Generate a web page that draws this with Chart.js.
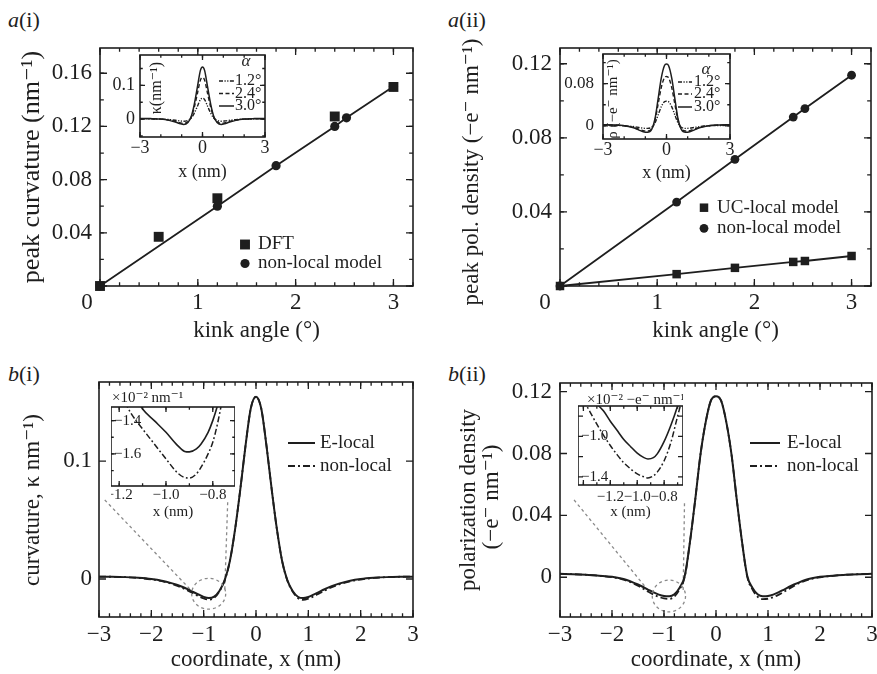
<!DOCTYPE html>
<html>
<head>
<meta charset="utf-8">
<script src="https://cdn.jsdelivr.net/npm/chart.js@4.4.0/dist/chart.umd.min.js"></script>
<style>
  body { margin: 0; background: #fff; width: 877px; height: 674px; position: relative; overflow: hidden;
         font-family: 'Liberation Serif', 'DejaVu Serif', serif; color: #1e1e1e; }
  canvas { position: absolute; }
  .tag { position: absolute; font-size: 22px; line-height: 24px; }
</style>
</head>
<body>
<div class="tag" style="left:8px;top:8px"><i>a</i>(i)</div>
<div class="tag" style="left:448px;top:8px"><i>a</i>(ii)</div>
<div class="tag" style="left:8px;top:362px"><i>b</i>(i)</div>
<div class="tag" style="left:448px;top:362px"><i>b</i>(ii)</div>

<canvas id="ai" width="440" height="345" style="left:0px;top:0px"></canvas>
<canvas id="aii" width="440" height="345" style="left:437px;top:0px"></canvas>
<canvas id="bi" width="440" height="304" style="left:0px;top:370px"></canvas>
<canvas id="bii" width="440" height="304" style="left:437px;top:370px"></canvas>
<canvas id="aiIn" width="175" height="135" style="left:95px;top:50px"></canvas>
<canvas id="aiiIn" width="180" height="136" style="left:555px;top:49px"></canvas>
<canvas id="biIn" width="124" height="133" style="left:111px;top:388px"></canvas>
<canvas id="biiIn" width="105" height="133" style="left:578px;top:388px"></canvas>

<script>
const SERIF = "'Liberation Serif', 'DejaVu Serif', serif";
const INK = '#1e1e1e';

// a(i): peak curvature vs kink angle
const kinkDFT = [0, 0.6, 1.2, 2.4, 3.0];
const curvDFT = [0, 0.037, 0.066, 0.1275, 0.1497];
const kinkNL = [0, 1.2, 1.8, 2.4, 2.52, 3.0];
const curvNL = [0, 0.060, 0.0905, 0.120, 0.1265, 0.150];

// a(ii): peak polarisation density vs kink angle
const kinkPol = [0, 1.2, 1.8, 2.4, 2.52, 3.0];
const polUC = [0, 0.0064, 0.0098, 0.0130, 0.0135, 0.0162];
const polNL = [0, 0.0453, 0.0684, 0.0912, 0.0958, 0.1138];

// inset profiles for the three kink angles
const ax = [-3, -2.5, -2, -1.6, -1.3, -1.1, -0.9, -0.7, -0.55, -0.4, -0.25, -0.1, 0, 0.1, 0.25, 0.4, 0.55, 0.7, 0.9, 1.1, 1.3, 1.6, 2, 2.5, 3];
const k12 = [0.0008, 0.0006, 0, -0.0015, -0.0035, -0.0052, -0.0064, -0.0040, 0.0024, 0.0168, 0.0372, 0.0578, 0.0618, 0.0578, 0.0372, 0.0168, 0.0024, -0.0040, -0.0064, -0.0052, -0.0035, -0.0015, 0, 0.0006, 0.0008];
const k24 = [0.0016, 0.0012, 0, -0.0030, -0.0070, -0.0104, -0.0128, -0.0080, 0.0048, 0.0336, 0.0744, 0.1156, 0.1236, 0.1156, 0.0744, 0.0336, 0.0048, -0.0080, -0.0128, -0.0104, -0.0070, -0.0030, 0, 0.0012, 0.0016];
const k30 = [0.0020, 0.0015, 0, -0.0037, -0.0088, -0.0130, -0.0160, -0.0100, 0.0060, 0.0420, 0.0930, 0.1445, 0.1545, 0.1445, 0.0930, 0.0420, 0.0060, -0.0100, -0.0160, -0.0130, -0.0088, -0.0037, 0, 0.0015, 0.0020];
const r12 = [0.0009, 0.0006, 0.0001, -0.0013, -0.0032, -0.0045, -0.0049, -0.0027, 0.0048, 0.0200, 0.0360, 0.0456, 0.0468, 0.0456, 0.0360, 0.0200, 0.0048, -0.0027, -0.0049, -0.0045, -0.0032, -0.0013, 0.0001, 0.0006, 0.0009];
const r24 = [0.0018, 0.0013, 0.0002, -0.0026, -0.0065, -0.0090, -0.0098, -0.0054, 0.0096, 0.0400, 0.0720, 0.0912, 0.0936, 0.0912, 0.0720, 0.0400, 0.0096, -0.0054, -0.0098, -0.0090, -0.0065, -0.0026, 0.0002, 0.0013, 0.0018];
const r30 = [0.0022, 0.0016, 0.0003, -0.0033, -0.0081, -0.0112, -0.0123, -0.0068, 0.0120, 0.0500, 0.0900, 0.1140, 0.1170, 0.1140, 0.0900, 0.0500, 0.0120, -0.0068, -0.0123, -0.0112, -0.0081, -0.0033, 0.0003, 0.0016, 0.0022];

// b: profiles along x for 3.0 deg kink
const bx = [-3, -2.75, -2.5, -2.25, -2, -1.8, -1.6, -1.5, -1.4, -1.3, -1.2, -1.1, -1, -0.9, -0.8, -0.7, -0.6, -0.5, -0.4, -0.3, -0.2, -0.1, 0,
            0.1, 0.2, 0.3, 0.4, 0.5, 0.6, 0.7, 0.8, 0.9, 1, 1.1, 1.2, 1.3, 1.4, 1.5, 1.6, 1.8, 2, 2.25, 2.5, 2.75, 3];
const kapE = [0.0020, 0.0019, 0.0016, 0.0010, 0.0000, -0.0014, -0.0037,
  -0.0051, -0.0068, -0.0088, -0.0110, -0.0131, -0.0151, -0.0161, -0.0149, -0.0102, -0.0012, 0.0150, 0.0420, 0.0760, 0.1130, 0.1445,
  0.1545,
  0.1445, 0.1130, 0.0760, 0.0420, 0.0150, -0.0012, -0.0102, -0.0150, -0.0162, -0.0152, -0.0132, -0.0111, -0.0089, -0.0069, -0.0052,
  -0.0037, -0.0014, 0.0000, 0.0010, 0.0016, 0.0019, 0.0020];
const kapN = [0.0020, 0.0019, 0.0016, 0.0009, -0.0003, -0.0018, -0.0042,
  -0.0058, -0.0077, -0.0099, -0.0122, -0.0145, -0.0165, -0.0175, -0.0160, -0.0106, -0.0014, 0.0150, 0.0420, 0.0760, 0.1130, 0.1445,
  0.1545,
  0.1445, 0.1130, 0.0760, 0.0420, 0.0150, -0.0014, -0.0106, -0.0161, -0.0177, -0.0167, -0.0147, -0.0124, -0.0101, -0.0079, -0.0060,
  -0.0044, -0.0019, -0.0004, 0.0009, 0.0016, 0.0019, 0.0020];
const rhoE = [0.0022, 0.0020, 0.0016, 0.0010, 0.0003, -0.0010, -0.0033,
  -0.0047, -0.0063, -0.0081, -0.0098, -0.0112, -0.0121, -0.0123, -0.0110, -0.0068, 0.0010, 0.0230, 0.0500, 0.0790, 0.1000, 0.1140,
  0.1170,
  0.1140, 0.1000, 0.0790, 0.0500, 0.0230, 0.0010, -0.0068, -0.0110, -0.0123, -0.0121, -0.0112, -0.0098, -0.0081, -0.0063, -0.0047,
  -0.0033, -0.0010, 0.0003, 0.0010, 0.0016, 0.0020, 0.0022];
const rhoN = [0.0022, 0.0020, 0.0016, 0.0009, 0.0000, -0.0014, -0.0038,
  -0.0055, -0.0074, -0.0094, -0.0112, -0.0127, -0.0137, -0.0140, -0.0125, -0.0078, 0.0004, 0.0230, 0.0500, 0.0790, 0.1000, 0.1140,
  0.1170,
  0.1140, 0.1000, 0.0790, 0.0500, 0.0230, 0.0004, -0.0078, -0.0126, -0.0142, -0.0139, -0.0129, -0.0114, -0.0095, -0.0075, -0.0056,
  -0.0039, -0.0014, 0.0000, 0.0009, 0.0016, 0.0020, 0.0022];

// b insets: zoom on the left minimum (units of 1e-2)
const zx1 = [-1.2, -1.15, -1.1, -1.05, -1.0, -0.95, -0.92, -0.9, -0.87, -0.85, -0.82, -0.8, -0.78, -0.76, -0.74, -0.72];
const zE1 = [-1.10, -1.21, -1.33, -1.40, -1.47, -1.55, -1.585, -1.588, -1.57, -1.54, -1.47, -1.40, -1.31, -1.20, -1.08, -0.95];
const zN1 = [-1.22, -1.355, -1.45, -1.54, -1.63, -1.715, -1.742, -1.745, -1.72, -1.68, -1.60, -1.53, -1.42, -1.28, -1.13, -0.97];
const zx2 = [-1.45, -1.4, -1.35, -1.3, -1.25, -1.2, -1.15, -1.1, -1.05, -1.0, -0.95, -0.92, -0.88, -0.85, -0.8, -0.75, -0.7, -0.68, -0.66];
const zE2 = [-0.44, -0.53, -0.61, -0.68, -0.75, -0.85, -0.94, -1.03, -1.10, -1.165, -1.21, -1.223, -1.21, -1.17, -1.05, -0.89, -0.70, -0.61, -0.52];
const zN2 = [-0.53, -0.64, -0.76, -0.88, -0.99, -1.09, -1.18, -1.26, -1.32, -1.37, -1.40, -1.41, -1.39, -1.35, -1.24, -1.06, -0.80, -0.70, -0.60];

// zoom guides (data units of the b panels)
const guideBiL = [[-2.89, -1.21], [0.067, -0.011]];
const guideBiR = [[-0.541, -0.598], [0.065, -0.011]];
const guideBiiL = [[-2.73, -1.265], [0.050, -0.0101]];
const guideBiiR = [[-0.606, -0.631], [0.0478, -0.0082]];

const pts = (xs, ys) => xs.map((x, i) => ({ x, y: ys[i] }));

function curve(label, xs, ys, dash, w) {
  return { label, data: pts(xs, ys), borderColor: INK, borderWidth: w, borderDash: dash,
           pointRadius: 0, cubicInterpolationMode: 'monotone', fill: false, order: 1 };
}
function guide(g) {
  return { label: 'zoom', noKey: true, data: pts(g[0], g[1]), borderColor: '#8a8a8a', borderWidth: 1.3,
           borderDash: [3, 3], pointRadius: 0, order: 5 };
}
function markers(label, xs, ys, style, r, line, order) {
  return { label, data: pts(xs, ys), showLine: line, borderColor: INK, borderWidth: 1.8, pointStyle: style,
           pointRadius: r, pointBackgroundColor: INK, pointBorderColor: INK, pointBorderWidth: 0, clip: false, order };
}

function tickText(v, dec, hide) {
  if ((hide || []).some(h => Math.abs(h - v) < 1e-6)) return '';
  if (Math.abs(v) < 1e-9) return '0';
  return v.toFixed(dec).replace('-', '\u2212');
}

function axis(o) {
  return {
    type: 'linear', min: o.min, max: o.max,
    grid: { display: false, drawTicks: false },
    border: { display: false },
    ticks: { stepSize: o.step, includeBounds: false, autoSkip: false, maxRotation: 0, minRotation: 0,
             padding: o.pad, mirror: !!o.mirror, color: INK, font: { family: SERIF, size: o.size },
             callback: v => tickText(v, o.dec, o.hide) },
    title: o.title
      ? { display: true, text: o.title, color: INK, font: { family: SERIF, size: o.size }, padding: { top: 0, bottom: o.tpad || 0 } }
      : { display: false }
  };
}

function steps(scale, step) {
  const out = [];
  if (!step) return out;
  for (let k = Math.ceil(scale.min / step - 1e-6); k * step <= scale.max + 1e-9; k++) out.push(k * step);
  return out;
}

const decorPlugin = {
  id: 'decor',
  beforeDraw(chart, args, o) {
    if (!o.fill) return;
    const a = chart.chartArea, c = chart.ctx;
    c.save();
    c.fillStyle = o.fill;
    c.fillRect(a.left, a.top, a.right - a.left, a.bottom - a.top);
    c.restore();
  },
  afterDatasetsDraw(chart, args, o) {
    const c = chart.ctx, a = chart.chartArea, sx = chart.scales.x, sy = chart.scales.y;
    c.save();
    if (o.zoom) {
      const z = o.zoom, px = sx.getPixelForValue(z.cx), py = sy.getPixelForValue(z.cy);
      c.strokeStyle = '#8a8a8a'; c.lineWidth = 1.3; c.setLineDash([3, 3]);
      c.beginPath();
      c.ellipse(px, py, Math.abs(sx.getPixelForValue(z.cx + z.rx) - px), Math.abs(sy.getPixelForValue(z.cy + z.ry) - py), 0, 0, 2 * Math.PI);
      c.stroke();
      c.setLineDash([]);
    }
    c.strokeStyle = INK;
    c.lineWidth = o.frame || 1.6;
    c.strokeRect(a.left, a.top, a.right - a.left, a.bottom - a.top);
    const len = o.len || 7;
    const mark = (scale, vals, l) => {
      c.beginPath();
      vals.forEach(v => {
        const p = scale.getPixelForValue(v);
        if (scale.isHorizontal()) {
          if (p < a.left - 0.5 || p > a.right + 0.5) return;
          c.moveTo(p, a.bottom); c.lineTo(p, a.bottom - l);
          c.moveTo(p, a.top); c.lineTo(p, a.top + l);
        } else {
          if (p < a.top - 0.5 || p > a.bottom + 0.5) return;
          c.moveTo(a.left, p); c.lineTo(a.left + l, p);
          c.moveTo(a.right, p); c.lineTo(a.right - l, p);
        }
      });
      c.stroke();
    };
    c.lineWidth = 1.3;
    mark(sx, sx.ticks.map(t => t.value), len);
    mark(sy, sy.ticks.map(t => t.value), len);
    mark(sx, steps(sx, o.minorX), len * 0.55);
    mark(sy, steps(sy, o.minorY), len * 0.55);
    c.restore();
  },
  afterDraw(chart, args, o) {
    const c = chart.ctx, ox = chart.canvas.offsetLeft, oy = chart.canvas.offsetTop;
    if (o.key) {
      const k = o.key;
      c.save();
      c.textBaseline = 'middle'; c.textAlign = 'left';
      let i = 0;
      chart.data.datasets.forEach(ds => {
        if (ds.noKey) return;
        const y = k.ys[i++] - oy, x = k.x - ox;
        c.fillStyle = INK; c.strokeStyle = INK;
        if (k.kind === 'point') {
          if (ds.pointStyle === 'rect') {
            const s = ds.pointRadius * Math.SQRT2;
            c.fillRect(x - s / 2, y - s / 2, s, s);
          } else {
            c.beginPath(); c.arc(x, y, ds.pointRadius, 0, 2 * Math.PI); c.fill();
          }
        } else {
          c.lineWidth = ds.borderWidth;
          c.setLineDash(ds.borderDash || []);
          c.beginPath(); c.moveTo(x, y); c.lineTo(x + k.len, y); c.stroke();
          c.setLineDash([]);
        }
        c.font = k.size + 'px ' + SERIF;
        c.fillText(ds.label, k.tx - ox, y);
      });
      if (k.head) {
        c.font = 'italic ' + k.head.size + 'px ' + SERIF;
        c.textAlign = 'center';
        c.fillText(k.head.t, k.head.x - ox, k.head.y - oy);
      }
      c.restore();
    }
    (o.texts || []).forEach(t => {
      c.save();
      c.font = (t.style || '') + ' ' + (t.size || 23) + 'px ' + SERIF;
      c.fillStyle = INK;
      c.textAlign = t.align || 'center';
      c.textBaseline = 'middle';
      c.translate(t.x - ox, t.y - oy);
      if (t.rot) c.rotate(t.rot * Math.PI / 180);
      c.fillText(t.t, 0, 0);
      c.restore();
    });
  }
};

// area = page coordinates of the plot frame [left, top, right, bottom]
function build(id, area, datasets, sx, sy, decor) {
  const cv = document.getElementById(id);
  const L = cv.offsetLeft, T = cv.offsetTop;
  const yW = area[0] - L, xH = T + cv.height - area[3];
  sx.position = 'bottom';
  sy.position = 'left';
  sx.afterFit = s => { s.height = xH; s.paddingLeft = 0; s.paddingRight = 0; };
  sy.afterFit = s => { s.width = yW; s.paddingTop = 0; s.paddingBottom = 0; };
  return new Chart(cv, {
    type: 'line',
    data: { datasets },
    options: {
      responsive: false, animation: false, devicePixelRatio: 1,
      layout: { padding: { left: 0, bottom: 0, top: area[1] - T, right: L + cv.width - area[2] } },
      plugins: { legend: { display: false }, tooltip: { enabled: false }, title: { display: false }, decor },
      scales: { x: sx, y: sy }
    },
    plugins: [decorPlugin]
  });
}

// a(i)
build('ai', [100, 48, 413, 286],
  [markers('DFT', kinkDFT, curvDFT, 'rect', 7, false, 2),
   markers('non-local model', kinkNL, curvNL, 'circle', 4.6, true, 1)],
  axis({ min: 0, max: 3.2, step: 1, dec: 0, size: 23, pad: 3, hide: [0], title: 'kink angle (\u00b0)' }),
  axis({ min: 0, max: 0.179, step: 0.04, dec: 2, size: 23, pad: 8, hide: [0] }),
  { minorX: 0.2, minorY: 0.02, len: 7,
    key: { kind: 'point', x: 245, tx: 258, ys: [244.5, 263.5], size: 19 },
    texts: [{ t: 'peak curvature (nm\u207b\u00b9)', x: 32, y: 167, rot: -90, size: 26 }, { t: '0', x: 87, y: 303 }] });

// a(ii)
build('aii', [560, 48, 872, 286],
  [markers('UC-local model', kinkPol, polUC, 'rect', 6, true, 2),
   markers('non-local model', kinkPol, polNL, 'circle', 4.4, true, 1)],
  axis({ min: 0, max: 3.2, step: 1, dec: 0, size: 23, pad: 3, hide: [0], title: 'kink angle (\u00b0)' }),
  axis({ min: 0, max: 0.1285, step: 0.04, dec: 2, size: 23, pad: 8, hide: [0] }),
  { minorX: 0.2, minorY: 0.02, len: 7,
    key: { kind: 'point', x: 704, tx: 717, ys: [207.7, 228.3], size: 19 },
    texts: [{ t: 'peak pol. density (\u2212e\u207b nm\u207b\u00b9)', x: 472, y: 172, rot: -90, size: 23 }, { t: '0', x: 545, y: 303 }] });

// b(i)
build('bi', [99, 382, 413, 617],
  [curve('E-local', bx, kapE, [], 2),
   curve('non-local', bx, kapN, [7, 3, 2, 3], 1.8),
   guide(guideBiL), guide(guideBiR)],
  axis({ min: -3, max: 3, step: 1, dec: 0, size: 23, pad: 4, title: 'coordinate, x (nm)' }),
  axis({ min: -0.0322, max: 0.167, step: 0.1, dec: 1, size: 23, pad: 7 }),
  { minorX: 0.2, len: 7, zoom: { cx: -0.904, cy: -0.0125, rx: 0.325, ry: 0.0131 },
    key: { kind: 'line', x: 288, len: 27, tx: 320, ys: [443, 466], size: 19 },
    texts: [{ t: 'curvature, \u03ba nm\u207b\u00b9)', x: 33, y: 500, rot: -90 }] });

// b(ii)
build('bii', [560, 383, 872, 617],
  [curve('E-local', bx, rhoE, [], 2),
   curve('non-local', bx, rhoN, [7, 3, 2, 3], 1.8),
   guide(guideBiiL), guide(guideBiiR)],
  axis({ min: -3, max: 3, step: 1, dec: 0, size: 23, pad: 4, title: 'coordinate, x (nm)' }),
  axis({ min: -0.0257, max: 0.1256, step: 0.04, dec: 2, size: 23, pad: 8 }),
  { minorX: 0.2, len: 7, zoom: { cx: -0.906, cy: -0.0121, rx: 0.32, ry: 0.0103 },
    key: { kind: 'line', x: 750, len: 30, tx: 787, ys: [443, 466], size: 19 },
    texts: [{ t: 'polarization density', x: 469, y: 500, rot: -90 }, { t: '(\u2212e\u207b nm\u207b\u00b9)', x: 492, y: 497, rot: -90 }] });

// a(i) inset
build('aiIn', [140, 55, 265, 137],
  [curve('1.2\u00b0', ax, k12, [4, 1.5, 1.2, 1.5, 1.2, 1.5], 1.4),
   curve('2.4\u00b0', ax, k24, [4, 2.5], 1.4),
   curve('3.0\u00b0', ax, k30, [], 1.5)],
  axis({ min: -3, max: 3, step: 3, dec: 0, size: 18, pad: 0, title: 'x (nm)', tpad: 2 }),
  axis({ min: -0.053, max: 0.19, step: 0.1, dec: 1, size: 18, pad: 5 }),
  { fill: '#fff', minorX: 1, minorY: 0.05, len: 5,
    key: { kind: 'line', x: 219, len: 15, tx: 235, ys: [81, 93.5, 106], size: 16, head: { t: '\u03b1', x: 246, y: 62, size: 17 } },
    texts: [{ t: '\u03ba(nm\u207b\u00b9)', x: 157, y: 88, rot: -90, size: 16 }] });

// a(ii) inset
build('aiiIn', [603, 54, 730, 139],
  [curve('1.2\u00b0', ax, r12, [4, 1.5, 1.2, 1.5, 1.2, 1.5], 1.4),
   curve('2.4\u00b0', ax, r24, [4, 2.5], 1.4),
   curve('3.0\u00b0', ax, r30, [], 1.5)],
  axis({ min: -3, max: 3, step: 3, dec: 0, size: 18, pad: 0, title: 'x (nm)', tpad: 1 }),
  axis({ min: -0.025, max: 0.1362, step: 0.08, dec: 2, size: 17, pad: 9 }),
  { fill: '#fff', minorX: 1, minorY: 0.04, len: 5,
    key: { kind: 'line', x: 678, len: 14, tx: 694, ys: [82, 94, 107], size: 16, head: { t: '\u03b1', x: 706, y: 70, size: 17 } },
    texts: [{ t: '\u03c1 (\u2212e\u207b nm\u207b\u00b9)', x: 613, y: 99, rot: -90, size: 15 }] });

// b(i) inset
build('biIn', [111, 407, 235, 486],
  [curve('E-local', zx1, zE1, [], 1.6),
   curve('non-local', zx1, zN1, [6, 2.5, 1.8, 2.5], 1.5)],
  axis({ min: -1.235, max: -0.705, step: 0.2, dec: 1, size: 15, pad: 0, title: 'x (nm)' }),
  axis({ min: -1.793, max: -1.318, step: 0.2, dec: 1, size: 15, pad: 3, mirror: true }),
  { fill: '#fff', minorX: 0.1, minorY: 0.1, len: 5,
    texts: [{ t: '\u00d710\u207b\u00b2 nm\u207b\u00b9', x: 112, y: 398, align: 'left', size: 15 }] });

// b(ii) inset
build('biiIn', [578, 406, 683, 485],
  [curve('E-local', zx2, zE2, [], 1.6),
   curve('non-local', zx2, zN2, [6, 2.5, 1.8, 2.5], 1.5)],
  axis({ min: -1.44, max: -0.66, step: 0.2, dec: 1, size: 15, pad: 3, hide: [-1.4], title: 'x (nm)' }),
  axis({ min: -1.48, max: -0.70, step: 0.2, dec: 1, size: 15, pad: 3, mirror: true, hide: [-1.2, -0.8] }),
  { fill: '#fff', minorX: 0.1, len: 5,
    texts: [{ t: '\u00d710\u207b\u00b2 \u2212e\u207b nm\u207b\u00b9', x: 587, y: 400, align: 'left', size: 15 }] });
</script>
</body>
</html>
